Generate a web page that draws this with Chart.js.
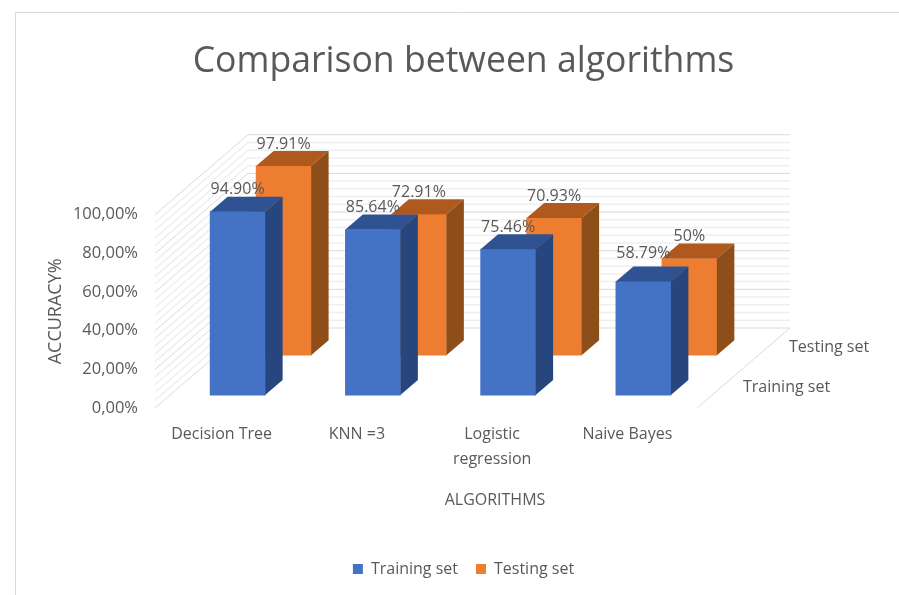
<!DOCTYPE html>
<html>
<head>
<meta charset="utf-8">
<title>Comparison between algorithms</title>
<style>
  html, body { margin: 0; padding: 0; background: #fff; }
  canvas { display: block; }
</style>
<script src="https://cdn.jsdelivr.net/npm/chart.js@4"></script>
</head>
<body>
<canvas id="chart" width="899" height="595"></canvas>
<script>
const categories = ['Decision Tree', 'KNN =3', ['Logistic', 'regression'], 'Naive Bayes'];
const trainingValues = [94.90, 85.64, 75.46, 58.79];
const testingValues = [97.91, 72.91, 70.93, 50];
const seriesNames = ['Training set', 'Testing set'];
const titleText = 'Comparison between algorithms';
const xTitleText = 'ALGORITHMS';
const yTitleText = 'ACCURACY%';

const FONT = '"Open Sans", "Noto Sans", sans-serif';
const TEXT = '#595959';
const GRID_MAJOR = '#d9d9d9';
const GRID_MINOR = '#efefef';
const BLUE = { front: '#4472c4', top: '#2f5292', side: '#27467e' };
const ORANGE = { front: '#ed7d31', top: '#b0591e', side: '#8e4e1a' };

// pixel sizes of the fake 3D look
const BAR_W = 55;
const BAR_DX = 17.5;
const BAR_DY = 15;
const WALL_DX = 93;
const WALL_DY = 80;
const PX_PER_UNIT = 1.94;
const CAT_SPACING = 135.3;
const TRAIN_LIFT = 13;    // training bars stand this far above the front floor edge
const TEST_LIFT = 53;
const TEST_SHIFT = 46;

function pct(v) {
  return Number.isInteger(v) ? v + '%' : v.toFixed(2) + '%';
}

// draws the frame, walls and floor behind the bars
const wallsPlugin = {
  id: 'walls',
  beforeDatasetsDraw(chart) {
    const { ctx, chartArea, scales } = chart;
    const left = chartArea.left - 15;
    const right = chartArea.right - 14;
    const axis = scales.yTick;
    ctx.save();
    ctx.lineWidth = 1;
    ctx.strokeStyle = GRID_MAJOR;
    ctx.beginPath();
    ctx.moveTo(15.5, 600);
    ctx.lineTo(15.5, 12.5);
    ctx.lineTo(900, 12.5);
    ctx.stroke();
    for (let v = 0; v <= 100; v += 4) {
      const y = axis.getPixelForValue(v);
      ctx.strokeStyle = v % 20 === 0 ? GRID_MAJOR : GRID_MINOR;
      ctx.lineWidth = v % 20 === 0 ? 1 : 1.5;
      ctx.beginPath();
      ctx.moveTo(left, y);
      ctx.lineTo(left + WALL_DX, y - WALL_DY);
      ctx.lineTo(right + WALL_DX, y - WALL_DY);
      ctx.stroke();
    }
    const y0 = axis.getPixelForValue(0);
    ctx.strokeStyle = GRID_MAJOR;
    ctx.lineWidth = 1;
    ctx.beginPath();
    ctx.moveTo(right, y0);
    ctx.lineTo(right + WALL_DX, y0 - WALL_DY);
    ctx.stroke();
    ctx.restore();
  }
};

// top and side faces for each bar, drawn right after the bars of that dataset
const facesPlugin = {
  id: 'faces',
  afterDatasetDraw(chart, args) {
    const { ctx } = chart;
    const colors = args.index === 0 ? BLUE : ORANGE;
    ctx.save();
    args.meta.data.forEach(bar => {
      const l = bar.x - bar.width / 2;
      const r = bar.x + bar.width / 2;
      ctx.fillStyle = colors.top;
      ctx.beginPath();
      ctx.moveTo(l, bar.y);
      ctx.lineTo(l + BAR_DX, bar.y - BAR_DY);
      ctx.lineTo(r + BAR_DX, bar.y - BAR_DY);
      ctx.lineTo(r, bar.y);
      ctx.closePath();
      ctx.fill();
      ctx.fillStyle = colors.side;
      ctx.beginPath();
      ctx.moveTo(r, bar.y);
      ctx.lineTo(r + BAR_DX, bar.y - BAR_DY);
      ctx.lineTo(r + BAR_DX, bar.base - BAR_DY);
      ctx.lineTo(r, bar.base);
      ctx.closePath();
      ctx.fill();
    });
    ctx.restore();
  }
};

// value labels, depth axis labels and the x axis title (it is not centred on the axis)
const textPlugin = {
  id: 'texts',
  afterDatasetsDraw(chart) {
    const { ctx, chartArea } = chart;
    ctx.save();
    ctx.fillStyle = TEXT;
    ctx.textBaseline = 'middle';
    ctx.textAlign = 'center';
    ctx.font = '16px ' + FONT;
    [trainingValues, testingValues].forEach((values, d) => {
      const meta = chart.getDatasetMeta(d);
      values.forEach((v, i) => {
        const bar = meta.data[i];
        const extra = v === 58.79 ? 6 : 0;   // this label sits a bit higher in the original
        ctx.fillText(pct(v), bar.x, bar.y - 22 - extra);
      });
    });
    ctx.font = '16px ' + FONT;
    ctx.fillText(xTitleText, 495, 500);
    ctx.textAlign = 'left';
    ctx.fillText(seriesNames[1], chartArea.right + 78, 347);
    ctx.fillText(seriesNames[0], chartArea.right + 32, 387);
    ctx.restore();
  }
};

const chart = new Chart(document.getElementById('chart'), {
  type: 'bar',
  data: {
    labels: categories,
    datasets: [
      {
        label: seriesNames[0],
        data: trainingValues,
        backgroundColor: BLUE.front,
        xAxisID: 'x',
        yAxisID: 'yTraining',
        barThickness: BAR_W,
        grouped: false,
        clip: false,
        order: 1
      },
      {
        label: seriesNames[1],
        data: testingValues.map((v, i) => ({ x: i, y: v })),
        backgroundColor: ORANGE.front,
        xAxisID: 'x2',
        yAxisID: 'yTesting',
        barThickness: BAR_W,
        grouped: false,
        clip: false,
        order: 2
      }
    ]
  },
  options: {
    responsive: false,
    animation: false,
    layout: { padding: { left: 28, right: 0, top: 0, bottom: 8 } },
    scales: {
      x: {
        position: 'bottom',
        grid: { display: false },
        border: { display: false },
        afterFit(scale) { scale.height = 135; },
        ticks: {
          color: TEXT,
          font: { family: FONT, size: 16, lineHeight: 1.56 },
          padding: 6,
          labelOffset: -16,
          maxRotation: 0,
          autoSkip: false
        }
      },
      // same width as x, shifted back by TEST_SHIFT pixels; kept displayed so the layout
      // gives it the real chart area width, but it shows nothing
      x2: {
        type: 'linear',
        position: 'bottom',
        offset: false,
        min: -0.5 - TEST_SHIFT / CAT_SPACING,
        max: 3.5 - TEST_SHIFT / CAT_SPACING,
        grid: { display: false },
        border: { display: false },
        ticks: { display: false },
        afterFit(scale) { scale.height = 0; }
      },
      yTick: {
        position: 'left',
        min: 0,
        max: 100,
        grid: { display: false },
        border: { display: false },
        afterFit(scale) { scale.width = 142; },
        ticks: {
          stepSize: 20,
          color: TEXT,
          padding: 24,
          font: { family: FONT, size: 16.5 },
          callback: v => v.toFixed(2).replace('.', ',') + '%'
        },
        title: {
          display: true,
          text: yTitleText,
          color: TEXT,
          font: { family: FONT, size: 18 },
          padding: { top: 17, bottom: 0 }
        }
      },
      yTraining: {
        display: false,
        min: -TRAIN_LIFT / PX_PER_UNIT,
        max: 100 - TRAIN_LIFT / PX_PER_UNIT
      },
      // also keeps the empty room right of the bars, so it stays displayed without any ticks
      yTesting: {
        position: 'right',
        min: -TEST_LIFT / PX_PER_UNIT,
        max: 100 - TEST_LIFT / PX_PER_UNIT,
        grid: { display: false },
        border: { display: false },
        ticks: { display: false },
        afterFit(scale) { scale.width = 188; }
      }
    },
    plugins: {
      title: {
        display: true,
        text: titleText,
        color: TEXT,
        font: { family: FONT, size: 35.6, weight: 'normal', lineHeight: 1.2 },
        padding: { top: 40, bottom: 132 }
      },
      legend: {
        position: 'bottom',
        labels: {
          color: TEXT,
          font: { family: FONT, size: 16 },
          boxWidth: 10,
          boxHeight: 10,
          padding: 18
        }
      },
      tooltip: { enabled: false }
    }
  },
  plugins: [wallsPlugin, facesPlugin, textPlugin]
});
</script>
</body>
</html>
